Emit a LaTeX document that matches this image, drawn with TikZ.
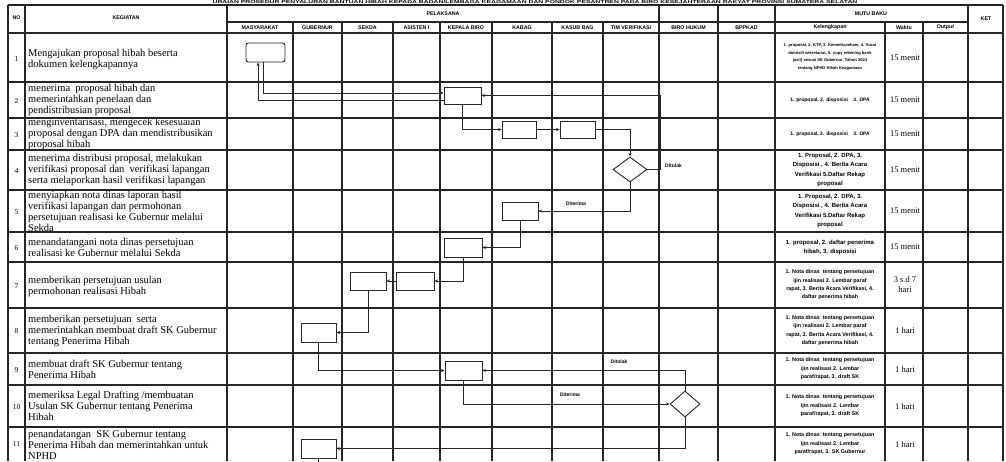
\documentclass[tikz,border=0pt]{standalone}
\usepackage{fontspec}
\setmainfont{Liberation Serif}
\newfontfamily\hdr{Liberation Sans}
\usetikzlibrary{arrows.meta,shapes.geometric}
\begin{document}
\begin{tikzpicture}[x=1pt,y=-1pt,
  grid/.style={line width=1.1pt,draw=black!85},
  pbox/.style={draw=black!85,line width=0.9pt,minimum width=36pt,minimum height=18pt,inner sep=0pt},
  dec/.style={draw=black!85,line width=0.9pt,diamond,inner sep=0pt},
  arr/.style={draw=black!85,line width=0.7pt,-{Stealth[length=3.5pt,width=3pt]}},
  ln/.style={draw=black!85,line width=0.7pt},
  keg/.style={align=left,inner sep=0pt,anchor=west,font=\fontsize{10.5}{11}\selectfont},
  num/.style={inner sep=0pt,font=\fontsize{7.5}{8}\selectfont},
  hd/.style={inner sep=0pt,font=\hdr\bfseries\fontsize{5.3}{6}\selectfont},
  lbl/.style={inner sep=0pt,font=\hdr\bfseries\fontsize{5}{6}\selectfont},
  mk/.style={align=center,inner sep=0pt,font=\hdr\bfseries\fontsize{#1}{#1}\selectfont},
  wk/.style={align=center,inner sep=0pt,font=\fontsize{8.5}{10}\selectfont}
]
\useasboundingbox (0,0) rectangle (1006,461);
\clip (0,0) rectangle (1006,461);
\fill[white] (0,0) rectangle (1006,461);

% title
\node[inner sep=0pt,font=\hdr\bfseries\fontsize{4.2}{4.5}\selectfont] (title) at (535,2.4)
  {\scalebox{1.62}[1]{URAIAN PROSEDUR PENYALURAN BANTUAN HIBAH KEPADA BADAN/LEMBAGA KEAGAMAAN DAN PONDOK PESANTREN PADA BIRO KESEJAHTERAAN RAKYAT PROVINSI SUMATERA SELATAN}};

% grid
\foreach \x in {8,25,227,659,718,775,968,1003} \draw[grid] (\x,5) -- (\x,461);
\foreach \x in {293,342,393,440,492,552,603,885,923} \draw[grid] (\x,22) -- (\x,461);
\draw[grid] (8,5) -- (1003,5);
\draw[grid] (227,22) -- (968,22);
\foreach \y in {33,82,118,150,190,232,262,308,353,385,427} \draw[grid] (8,\y) -- (1003,\y);

% headers
\node[hd] (hno) at (16.5,18) {NO};
\node[hd] (hkeg) at (126,18) {KEGIATAN};
\node[hd] (hpel) at (443,13.5) {PELAKSANA};
\node[hd] (hmb) at (871,13.5) {MUTU BAKU};
\node[hd] (hket) at (986,19) {KET};
\node[hd] (h1) at (260,27.5) {MASYARAKAT};
\node[hd] (h2) at (317.5,27.5) {GUBERNUR};
\node[hd] (h3) at (367.5,27.5) {SEKDA};
\node[hd] (h4) at (416.5,27.5) {ASISTEN I};
\node[hd] (h5) at (466,27.5) {KEPALA BIRO};
\node[hd] (h6) at (522,27.5) {KABAG};
\node[hd] (h7) at (577.5,27.5) {KASUB BAG};
\node[hd] (h8) at (631,27.5) {TIM VERIFIKASI};
\node[hd] (h9) at (688.5,27.5) {BIRO HUKUM};
\node[hd] (h10) at (746.5,27.5) {BPPKAD};
\node[hd] (h11) at (830,27.5) {Kelengkapan};
\node[hd] (h12) at (904,27.5) {Waktu};
\node[hd] (h13) at (945.5,27.5) {Output};

% numbers
\node[num] (n1) at (16.5,59) {1};
\node[num] (n2) at (16.5,101) {2};
\node[num] (n3) at (16.5,135) {3};
\node[num] (n4) at (16.5,171) {4};
\node[num] (n5) at (16.5,212) {5};
\node[num] (n6) at (16.5,248) {6};
\node[num] (n7) at (16.5,286) {7};
\node[num] (n8) at (16.5,331) {8};
\node[num] (n9) at (16.5,370) {9};
\node[num] (n10) at (16.5,407) {10};
\node[num] (n11) at (16.5,444) {11};

% kegiatan
\node[keg] (k1) at (28,59) {Mengajukan proposal hibah beserta\\dokumen kelengkapannya};
\node[keg] (k2) at (28,100) {menerima\ \ proposal hibah dan\\memerintahkan penelaan dan\\pendistribusian proposal};
\node[keg] (k3) at (28,134) {menginventarisasi, mengecek kesesuaian\\proposal dengan DPA dan mendistribusikan\\proposal hibah};
\node[keg] (k4) at (28,170) {menerima distribusi proposal, melakukan\\verifikasi proposal dan\ \ verifikasi lapangan\\serta melaporkan hasil verifikasi lapangan};
\node[keg] (k5) at (28,211) {menyiapkan nota dinas laporan hasil\\verifikasi lapangan dan permohonan\\persetujuan realisasi ke Gubernur melalui\\Sekda};
\node[keg] (k6) at (28,247) {menandatangani nota dinas persetujuan\\realisasi ke Gubernur melalui Sekda};
\node[keg] (k7) at (28,286) {memberikan persetujuan usulan\\permohonan realisasi Hibah};
\node[keg] (k8) at (28,330.5) {memberikan persetujuan\ \ serta\\memerintahkan membuat draft SK Gubernur\\tentang Penerima Hibah};
\node[keg] (k9) at (28,369) {membuat draft SK Gubernur tentang\\Penerima Hibah};
\node[keg] (k10) at (28,406) {memeriksa Legal Drafting /membuatan\\Usulan SK Gubernur tentang Penerima\\Hibah};
\node[keg] (k11) at (28,445) {penandatangan\ \ SK Gubernur tentang\\Penerima Hibah dan memerintahkan untuk\\NPHD};

% mutu baku - kelengkapan
\node[mk=4.1,font=\hdr\bfseries\fontsize{4.1}{7.5}\selectfont] (m1) at (830,57) {1. proposal, 2. KTP, 3. Kemenkumham, 4. Surat\\domisili sekretariat, 5. copy rekening bank\\(asli) sesuai SE Gubernur\ \ Tahun 2024\\tentang NPHD Hibah Keagamaan};
\node[mk=5] (m2) at (830,100) {1. proposal, 2. disposisi\ \ \ \ 3. DPA};
\node[mk=5] (m3) at (830,134) {1. proposal, 2. disposisi\ \ \ \ 3. DPA};
\node[mk=6,font=\hdr\bfseries\fontsize{6}{9.3}\selectfont] (m4) at (830,170) {1. Proposal, 2. DPA, 3.\\Disposisi , 4. Berita Acara\\Verifikasi 5.Daftar Rekap\\proposal};
\node[mk=6,font=\hdr\bfseries\fontsize{6}{9.3}\selectfont] (m5) at (830,211) {1. Proposal, 2. DPA, 3.\\Disposisi , 4. Berita Acara\\Verifikasi 5.Daftar Rekap\\proposal};
\node[mk=6,font=\hdr\bfseries\fontsize{6}{9}\selectfont] (m6) at (830,247) {1. proposal, 2. daftar penerima\\hibah, 3. disposisi};
\node[mk=5.4,font=\hdr\bfseries\fontsize{5.4}{8.3}\selectfont] (m7) at (830,285) {1. Nota dinas\ \ tentang persetujuan\\ijin realisasi 2. Lembar paraf\\rapat, 3. Berita Acara Verifikasi, 4.\\daftar penerima hibah};
\node[mk=5.4,font=\hdr\bfseries\fontsize{5.4}{8.3}\selectfont] (m8) at (830,330.5) {1. Nota dinas\ \ tentang persetujuan\\ijin realisasi 2. Lembar paraf\\rapat, 3. Berita Acara Verifikasi, 4.\\daftar penerima hibah};
\node[mk=5.4,font=\hdr\bfseries\fontsize{5.4}{8.5}\selectfont] (m9) at (830,369) {1. Nota dinas\ \ tentang persetujuan\\ijin realisasi 2. Lembar\\paraf/rapat, 3. draft SK};
\node[mk=5.4,font=\hdr\bfseries\fontsize{5.4}{8.5}\selectfont] (m10) at (830,406) {1. Nota dinas\ \ tentang persetujuan\\ijin realisasi 2. Lembar\\paraf/rapat, 3. draft SK};
\node[mk=5.4,font=\hdr\bfseries\fontsize{5.4}{8.5}\selectfont] (m11) at (830,444) {1. Nota dinas\ \ tentang persetujuan\\ijin realisasi 2. Lembar\\paraf/rapat, 3. SK Gubernur};

% waktu
\node[wk] (w1) at (905,58) {15 menit};
\node[wk] (w2) at (905,100) {15 menit};
\node[wk] (w3) at (905,134) {15 menit};
\node[wk] (w4) at (905,170) {15 menit};
\node[wk] (w5) at (905,211) {15 menit};
\node[wk] (w6) at (905,247) {15 menit};
\node[wk] (w7) at (905,285) {3 s.d 7\\hari};
\node[wk] (w8) at (905,331) {1 hari};
\node[wk] (w9) at (905,370) {1 hari};
\node[wk] (w10) at (905,407) {1 hari};
\node[wk] (w11) at (905,445) {1 hari};

% flow shapes
\node[pbox,rounded corners=2.5pt,minimum width=39pt,minimum height=19pt] (b1) at (265.5,52.5) {};
\node[pbox,minimum width=37pt,minimum height=17pt] (b2) at (462.5,95.5) {};
\node[pbox,minimum width=34pt,minimum height=17pt] (b3a) at (519,129.5) {};
\node[pbox,minimum width=35pt,minimum height=17pt] (b3b) at (577.5,129.5) {};
\node[dec,minimum width=34pt,minimum height=25pt] (d4) at (630,169.5) {};
\node[pbox] (b5) at (520,211) {};
\node[pbox,minimum width=38pt,minimum height=19pt] (b6) at (463,247.5) {};
\node[pbox] (b7a) at (368,281) {};
\node[pbox,minimum width=38pt] (b7b) at (415,281) {};
\node[pbox,minimum width=35pt,minimum height=19pt] (b8) at (318.5,332.5) {};
\node[pbox,minimum width=37pt,minimum height=19pt] (b9) at (463.5,370.5) {};
\node[dec,minimum width=30pt,minimum height=26pt] (d10) at (685,404) {};
\node[pbox,minimum width=35pt,minimum height=19pt] (b11) at (318.5,448.5) {};
\coordinate (bend) at (318.5,470);

% connectors
\draw[arr] ([xshift=-2.5pt]b1.south) |- ([yshift=2.5pt]b2.west);
\draw[arr] ([yshift=-4.5pt]b2.west) -| ([xshift=-7.5pt]b1.south);
\draw[arr] (d4.east) -- ++(13,0) |- (b2.east);
\node[lbl,anchor=west] (tol1) at (665,166) {Ditolak};
\draw[arr] (b2.south) |- (b3a.west);
\draw[arr] (b3a.east) -- (b3b.west);
\draw[arr] (b3b.east) -| (d4.north);
\draw[arr] (d4.south) |- (b5.east);
\node[lbl] (ter1) at (576,204) {Diterima};
\draw[arr] (b5.south) |- (b6.east);
\draw[arr] (b6.south) |- (b7b.east);
\draw[arr] (b7b.west) -- (b7a.east);
\draw[arr] (b7a.south) |- (b8.east);
\draw[arr] (b8.south) |- (b9.west);
\draw[arr] (b9.south) |- (d10.west);
\draw[arr] (d10.north) |- (b9.east);
\node[lbl] (tol2) at (619,362) {Ditolak};
\node[lbl] (ter2) at (570,395) {Diterima};
\draw[arr] (d10.south) |- (b11.east);
\draw[ln] (b11.south) -- (bend);
\end{tikzpicture}
\end{document}
